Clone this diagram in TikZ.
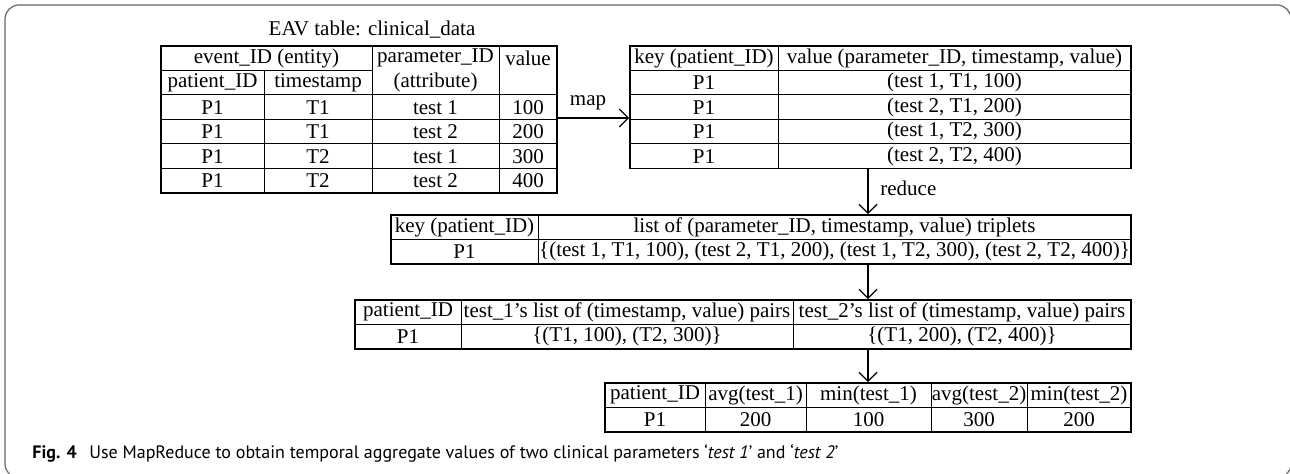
\documentclass[tikz,border=0pt]{standalone}
\usepackage{fontspec}
\setmainfont{Liberation Serif}
\newfontfamily\capfont{PT Sans}
\usetikzlibrary{arrows.meta,fit}

\begin{document}
\begin{tikzpicture}[x=0.5pt, y=-0.5pt,
  cell/.style={inner sep=0pt, font=\fontsize{10.5}{12}\selectfont},
  frame/.style={draw, line width=0.9pt, inner sep=0pt},
  rule/.style={line width=0.5pt},
  flow/.style={line width=0.6pt, -{Straight Barb[length=4.5pt,width=9pt,line width=0.6pt]}},
  border/.style={draw=black!60, line width=0.6pt, rounded corners=7pt},
]
\useasboundingbox (0,0) rectangle (1290,474);
\clip (0,0) rectangle (1290,474);
\draw[border] (5,5) rectangle (1291,478);

% ---- EAV table ----
\node[cell] (title) at (372,30) {EAV table: clinical\_data};
\node[frame, fit={(161,46) (557,193)}] (t1) {};
\draw[rule] (161,70.5) -- (372,70.5);
\foreach \y in {95,119.5,144,168.5} \draw[rule] (161,\y) -- (557,\y);
\draw[rule] (264,70.5) -- (264,193);
\draw[rule] (372,46) -- (372,193);
\draw[rule] (499,46) -- (499,193);
\node[cell] (t1h1) at (266.5,58.25) {event\_ID (entity)};
\node[cell] (t1h2) at (435.5,58.25) {parameter\_ID};
\node[cell] (t1h3) at (528,58.25) {value};
\node[cell] (t1h4) at (212.5,82.75) {patient\_ID};
\node[cell] (t1h5) at (318,82.75) {timestamp};
\node[cell] (t1h6) at (435.5,82.75) {(attribute)};
\foreach \i/\t/\p/\v [evaluate=\i as \yy using 107.25+24.5*(\i-1)] in
  {1/T1/test 1/100, 2/T1/test 2/200, 3/T2/test 1/300, 4/T2/test 2/400} {
  \node[cell] (t1r\i a) at (212.5,\yy) {P1};
  \node[cell] (t1r\i b) at (318,\yy) {\t};
  \node[cell] (t1r\i c) at (435.5,\yy) {\p};
  \node[cell] (t1r\i d) at (528,\yy) {\v};
}

% ---- map output ----
\node[frame, fit={(630,46) (1131,168.5)}] (t2) {};
\foreach \y in {70.5,95,119.5,144} \draw[rule] (630,\y) -- (1131,\y);
\draw[rule] (778,46) -- (778,168.5);
\node[cell] (t2h1) at (704,58.25) {key (patient\_ID)};
\node[cell] (t2h2) at (954.5,58.25) {value (parameter\_ID, timestamp, value)};
\foreach \i/\p/\t/\v [evaluate=\i as \yy using 82.75+24.5*(\i-1)] in
  {1/test 1/T1/100, 2/test 2/T1/200, 3/test 1/T2/300, 4/test 2/T2/400} {
  \node[cell] (t2r\i a) at (704,\yy) {P1};
  \node[cell] (t2r\i b) at (954.5,\yy) {(\p, \t, \v)};
}

% ---- reduce output ----
\node[frame, fit={(391,215) (1131,264)}] (t3) {};
\draw[rule] (391,239.5) -- (1131,239.5);
\draw[rule] (538,215) -- (538,264);
\node[cell] (t3h1) at (464.5,227.25) {key (patient\_ID)};
\node[cell] (t3h2) at (834.5,227.25) {list of (parameter\_ID, timestamp, value) triplets};
\node[cell] (t3r1) at (464.5,251.75) {P1};
\node[cell] (t3r2) at (834.5,251.75) {\{(test 1, T1, 100), (test 2, T1, 200), (test 1, T2, 300), (test 2, T2, 400)\}};

% ---- per-parameter lists ----
\node[frame, fit={(355,300) (1131,349)}] (t4) {};
\draw[rule] (355,324.5) -- (1131,324.5);
\draw[rule] (461,300) -- (461,349);
\draw[rule] (793,300) -- (793,349);
\node[cell] (t4h1) at (408,312.25) {patient\_ID};
\node[cell] (t4h2) at (627,312.25) {test\_1’s list of (timestamp, value) pairs};
\node[cell] (t4h3) at (962,312.25) {test\_2’s list of (timestamp, value) pairs};
\node[cell] (t4r1) at (408,336.75) {P1};
\node[cell] (t4r2) at (627,336.75) {\{(T1, 100), (T2, 300)\}};
\node[cell] (t4r3) at (962,336.75) {\{(T1, 200), (T2, 400)\}};

% ---- aggregates ----
\node[frame, fit={(605,383) (1131,432)}] (t5) {};
\draw[rule] (605,407.5) -- (1131,407.5);
\foreach \x in {705,806,931,1027} \draw[rule] (\x,383) -- (\x,432);
\foreach \n/\x/\h/\v in {a/655/patient\_ID/P1, b/755.5/avg(test\_1)/200,
    c/868.5/min(test\_1)/100, d/979/avg(test\_2)/300, e/1079/min(test\_2)/200} {
  \node[cell] (t5h\n) at (\x,395.25) {\h};
  \node[cell] (t5r\n) at (\x,419.75) {\v};
}

% ---- flow arrows ----
\coordinate (mapy) at (0,118);
\coordinate (ax) at (868,0);
\draw[flow] (t1.east |- mapy) -- (t2.west |- mapy);
\node[cell] (maplbl) at (588,103) {map};
\draw[flow] (t2.south -| ax) -- (t3.north -| ax);
\node[cell, anchor=west] (redlbl) at (880,188) {reduce};
\draw[flow] (t3.south -| ax) -- (t4.north -| ax);
\draw[flow] (t4.south -| ax) -- (t5.north -| ax);

% ---- caption ----
\node[anchor=base west, inner sep=0pt, font=\capfont\fontsize{9}{11}\selectfont] (cap) at (32,459)
  {\textbf{Fig. 4}\hspace{0.7em}Use MapReduce to obtain temporal aggregate values of two clinical parameters ‘\textit{test 1}’ and ‘\textit{test 2}’};
\end{tikzpicture}
\end{document}
